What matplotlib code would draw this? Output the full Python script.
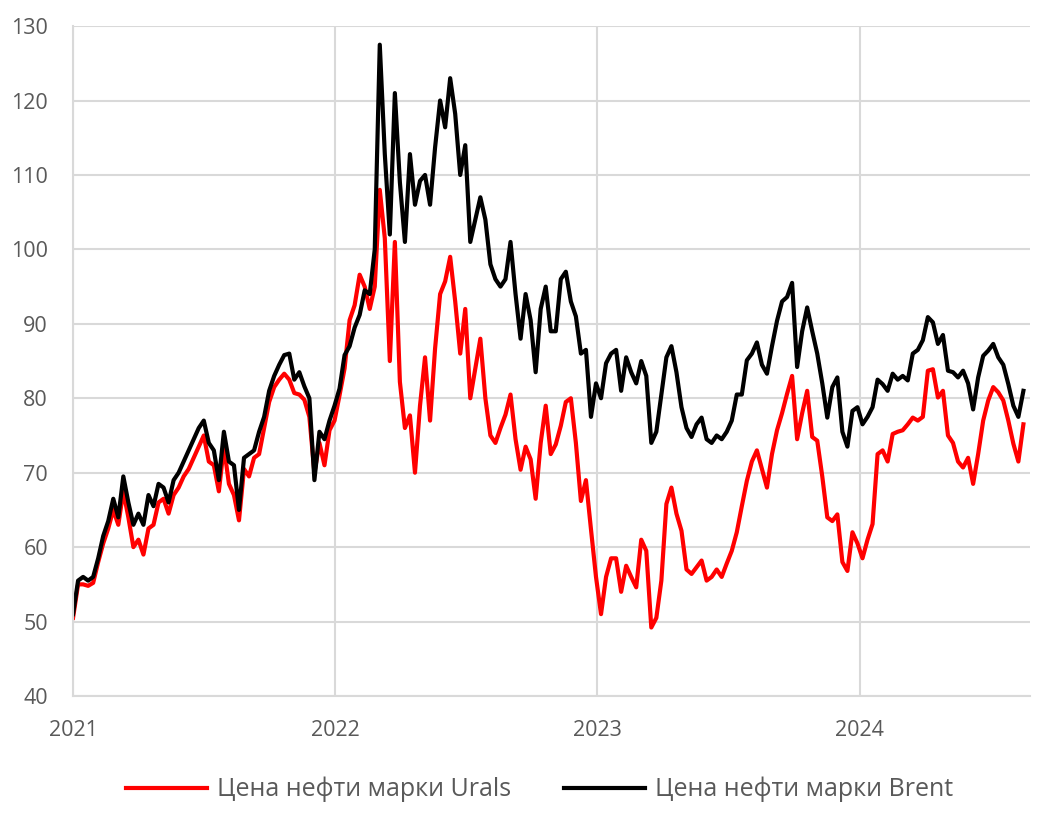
import pandas as pd
import numpy as np
import matplotlib
matplotlib.use("Agg")
import matplotlib.pyplot as plt
import matplotlib.dates as mdates

plt.rcParams['font.family'] = ['Open Sans', 'DejaVu Sans']

# weekly readings, starting 2021-01-01
start = "2021-01-01"

brent = [
    51, 55.5, 56, 55.5, 56, 58.5, 61.5, 63.5, 66.5, 64,
    69.5, 66, 63, 64.5, 63, 67, 65.5, 68.5, 68, 66,
    69, 70, 71.5, 73, 74.5, 76, 77, 74, 73, 69,
    75.5, 71.5, 71, 65, 72, 72.5, 73, 75.5, 77.5, 81,
    83, 84.5, 85.8, 86, 82.5, 83.5, 81.6, 80, 69, 75.5,
    74.5, 77, 79, 81.3, 85.8, 87, 89.5, 91.2, 94.5, 94,
    100, 127.5, 112.8, 102, 121, 109, 101, 112.8, 106, 109.2,
    110, 106, 113.7, 120, 116.4, 123, 118.2, 110, 114, 101,
    104, 107, 104, 98, 96, 95, 96, 101, 94, 88,
    94, 90.5, 83.5, 92, 95, 89, 89, 96, 97, 93,
    91, 86, 86.5, 77.5, 82, 80, 84.7, 86, 86.5, 81,
    85.5, 83.5, 82, 85, 83, 74, 75.5, 80.5, 85.5, 87,
    83.5, 78.8, 76, 74.8, 76.5, 77.4, 74.5, 74, 75, 74.5,
    75.5, 77, 80.5, 80.5, 85.1, 86, 87.5, 84.5, 83.3, 87,
    90.4, 93, 93.6, 95.5, 84.2, 89, 92.2, 89, 86, 82,
    77.4, 81.5, 82.8, 75.5, 73.5, 78.3, 78.8, 76.5, 77.5, 78.8,
    82.5, 81.9, 81, 83.3, 82.5, 83, 82.4, 86, 86.5, 87.8,
    90.9, 90.2, 87.3, 88.5, 83.7, 83.5, 82.8, 83.7, 82, 78.5,
    82.8, 85.7, 86.4, 87.3, 85.5, 84.5, 81.9, 79, 77.5, 81,
]

urals = [
    50.5, 55, 55, 54.8, 55.2, 58, 60.5, 62.5, 65, 63,
    67.5, 64, 60, 61, 59, 62.5, 63, 66, 66.5, 64.5,
    67, 68, 69.5, 70.5, 72, 73.5, 75, 71.5, 71, 67.5,
    73.5, 68.5, 67, 63.6, 70.5, 69.5, 72, 72.5, 76, 79.5,
    81.5, 82.5, 83.3, 82.5, 80.7, 80.5, 79.8, 77.5, 70, 74,
    71, 75.7, 77, 80.4, 84, 90.5, 92.5, 96.6, 95, 92,
    95, 108, 101.5, 85, 101, 82.2, 76, 77.7, 70, 79,
    85.5, 77, 86.7, 94, 95.7, 99, 93, 86, 92, 80,
    84, 88, 80, 75, 74, 76, 77.8, 80.5, 74.5, 70.4,
    73.5, 71.8, 66.5, 74, 79, 72.5, 73.8, 76.3, 79.5, 80,
    74, 66.2, 69, 62.4, 56, 51, 56, 58.5, 58.5, 54,
    57.5, 56, 54.6, 61, 59.5, 49.2, 50.5, 55.5, 65.8, 68,
    64.5, 62.2, 57, 56.4, 57.3, 58.2, 55.5, 56, 57, 56,
    57.8, 59.5, 62, 65.5, 68.9, 71.5, 73, 70.5, 68, 72.5,
    75.7, 78, 80.6, 83, 74.5, 78, 81, 74.8, 74.3, 69.5,
    64, 63.5, 64.4, 58, 56.8, 62, 60.5, 58.5, 61, 63.1,
    72.5, 73, 71.5, 75.2, 75.5, 75.7, 76.5, 77.4, 77, 77.5,
    83.7, 83.9, 80.1, 81, 75, 74, 71.5, 70.7, 72, 68.5,
    72.5, 77, 79.7, 81.5, 80.8, 79.7, 77, 73.9, 71.5, 76.5,
]

dates = pd.date_range(start, periods=len(brent), freq="7D")

fig = plt.figure(figsize=(10.48, 8.15), dpi=100)
ax = fig.add_axes([0.0697, 0.146, 0.913, 0.822])

ax.plot(dates, urals, color="#ff0000", lw=3.0, label="Цена нефти марки Urals")
ax.plot(dates, brent, color="#000000", lw=3.0, label="Цена нефти марки Brent")

ax.set_ylim(40, 130)
ax.set_yticks(range(40, 131, 10))
ax.set_xlim(pd.Timestamp("2021-01-01"), pd.Timestamp("2024-08-25"))
ax.xaxis.set_major_locator(mdates.YearLocator())
ax.xaxis.set_major_formatter(mdates.DateFormatter("%Y"))

ax.grid(True, color="#d9d9d9", lw=1.5)
ax.set_axisbelow(True)
for s in ["top", "right"]:
    ax.spines[s].set_visible(False)
for s in ["left", "bottom"]:
    ax.spines[s].set_color("#d9d9d9")
    ax.spines[s].set_linewidth(1.5)
ax.tick_params(axis="both", length=0, labelsize=15.5, labelcolor="#595959")
ax.tick_params(axis="x", pad=17)
ax.tick_params(axis="y", pad=18)

fig.legend(loc="center", bbox_to_anchor=(0.515, 0.031), ncol=2, frameon=False,
           fontsize=18, labelcolor="#595959", handlelength=3.25, columnspacing=2.1,
           handletextpad=0.4)

fig.savefig("out.png", dpi=100)
